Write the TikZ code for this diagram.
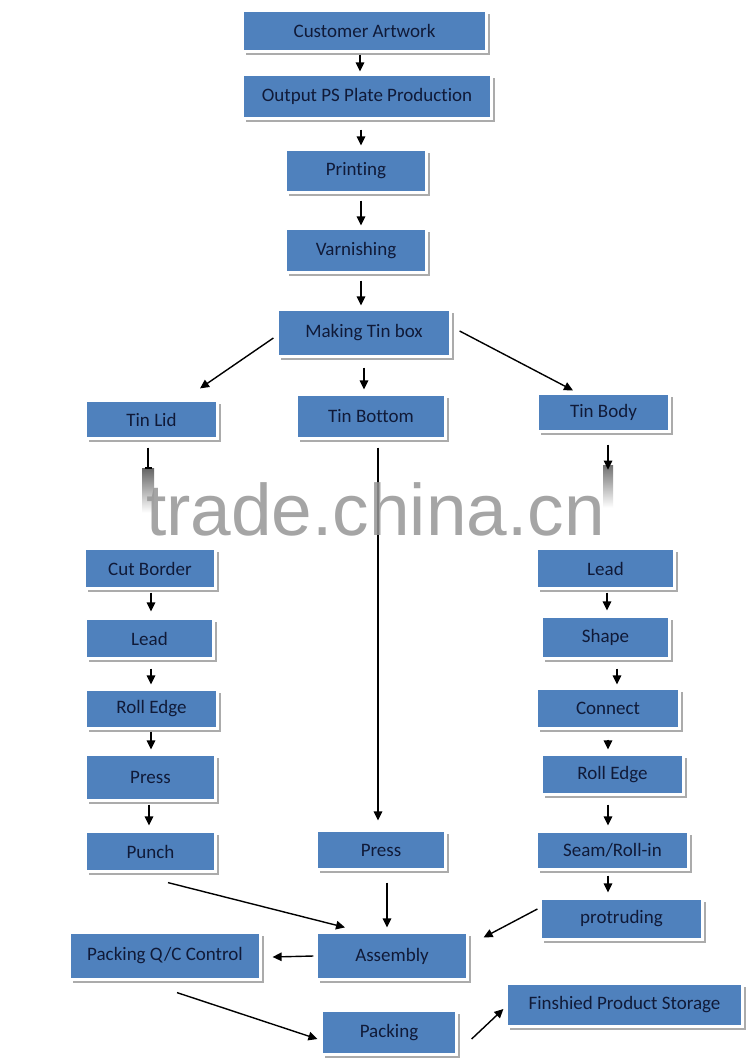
\documentclass[tikz,border=0pt]{standalone}
\usepackage{fontspec}
\setmainfont{Carlito}[Ligatures=NoCommon]
\newfontfamily\wmfont{Liberation Sans}
\usetikzlibrary{shadows,arrows.meta,calc}
\definecolor{boxblue}{RGB}{79,129,189}
\definecolor{boxtext}{RGB}{16,26,56}
\definecolor{wmgray}{RGB}{150,150,150}
\begin{document}
\begin{tikzpicture}[x=1pt,y=-1pt,
  stepbox/.style={fill=boxblue, draw=white, line width=2.6pt, text=boxtext,
    font=\fontsize{19}{22}\selectfont, inner sep=0pt,
    drop shadow={shadow xshift=3.6pt, shadow yshift=-3.6pt, fill=black!33, opacity=1}},
  sz/.style 2 args={minimum width=#1pt+2.6pt, minimum height=#2pt+2.6pt},
  arr/.style={line width=1.4pt, -{Triangle[length=9pt,width=8.5pt]}},
  plain/.style={line width=1.4pt}]
\useasboundingbox (0,0) rectangle (750,1062);
\fill[white] (0,0) rectangle (750,1062);

% boxes
\node[stepbox, sz={241}{38}] (ca) at (364.5,31) {Customer Artwork};
\node[stepbox, sz={246}{41}] (ops) at (367,96.5) {Output PS Plate Production};
\node[stepbox, sz={138}{40}] (prt) at (356,171) {Printing};
\node[stepbox, sz={138}{41}] (var) at (356,250.5) {Varnishing};
\node[stepbox, sz={170}{44}] (mtb) at (364,333) {Making Tin box};
\node[stepbox, sz={129}{35}] (lid) at (151.5,419.5) {Tin Lid};
\node[stepbox, sz={146}{41}] (bot) at (371,416.5) {Tin Bottom};
\node[stepbox, sz={129}{35}] (body) at (603.5,412.5) {Tin Body};

\node[stepbox, sz={128}{37}] (cut) at (150,568.5) {Cut Border};
\node[stepbox, sz={125}{37}] (leadL) at (149.5,638.5) {Lead};
\node[stepbox, sz={129}{36}] (rollL) at (151.5,709) {Roll Edge};
\node[stepbox, sz={127}{43}] (pressL) at (150.5,777.5) {Press};
\node[stepbox, sz={127}{37}] (punch) at (150.5,851.5) {Punch};

\node[stepbox, sz={126}{36}] (pressM) at (381,850) {Press};

\node[stepbox, sz={135}{37}] (leadR) at (605.5,568.5) {Lead};
\node[stepbox, sz={125}{39}] (shape) at (605.5,637.5) {Shape};
\node[stepbox, sz={140}{37}] (connect) at (608,708.5) {Connect};
\node[stepbox, sz={139}{37}] (rollR) at (612.5,774.5) {Roll Edge};
\node[stepbox, sz={149}{35}] (seam) at (612.5,850.5) {Seam/Roll-in};
\node[stepbox, sz={159}{38}] (prot) at (621.5,919) {protruding};

\node[stepbox, sz={148}{44}] (asm) at (392,956) {Assembly};
\node[stepbox, sz={188}{44}] (qc) at (165,956) {Packing Q/C Control};
\node[stepbox, sz={132}{41}] (pack) at (389,1032.5) {Packing};
\node[stepbox, sz={233}{40}] (store) at (624.5,1005) {Finshied Product Storage};

% top chain
\draw[arr] ($(ca.south)+(-4.5,2)$) -- ($(ops.north)+(-7,-2)$);
\draw[arr] ($(ops.south)+(-6,10)$) -- ($(prt.north)+(5,-3)$);
\draw[arr] ($(prt.south)+(5,7)$) -- ($(var.north)+(5,-2)$);
\draw[arr] ($(var.south)+(5,7)$) -- ($(mtb.north)+(-3,-3)$);
\draw[arr] ($(mtb.west)+(-3,5)$) -- ($(lid.north)+(48.5,-11)$);
\draw[arr] ($(mtb.south)+(0,10)$) -- ($(bot.north)+(-7,-4)$);
\draw[arr] ($(mtb.east)+(8,-2)$) -- ($(body.north)+(-30.5,-2)$);

% stubs into the watermark band
\coordinate (lidend) at ($(lid.south)+(-3.5,29)$);
\coordinate (bodyend) at ($(body.south)+(4.5,37)$);
\shade[top color=black!60, bottom color=white] ($(lidend)+(-6,0)$) rectangle ($(lidend)+(6,44)$);
\shade[top color=black!55, bottom color=white] ($(bodyend)+(-5,-4)$) rectangle ($(bodyend)+(5,38)$);
\draw[plain, -{Bar[width=7pt]}] ($(lid.south)+(-3.5,8)$) -- (lidend);
\draw[arr] ($(body.south)+(4.5,12)$) -- (bodyend);

% tin bottom to press
\draw[arr] ($(bot.south)+(7,8)$) -- ($(pressM.north)+(-3,-9)$);

% left chain
\draw[arr] ($(cut.south)+(1,3)$) -- ($(leadL.north)+(1.5,-6)$);
\draw[arr] ($(leadL.south)+(1.5,9)$) -- ($(rollL.north)+(-0.5,-4)$);
\draw[arr] ($(rollL.south)+(-0.5,2)$) -- ($(pressL.north)+(0.5,-4)$);
\draw[arr] ($(pressL.south)+(-1.5,3)$) -- ($(punch.north)+(-1.5,-5)$);

% right chain
\draw[arr] ($(leadR.south)+(1.5,3)$) -- ($(shape.north)+(1.5,-5)$);
\draw[arr] ($(shape.south)+(11.5,9)$) -- ($(connect.north)+(9,-3)$);
\draw[arr] ($(connect.south)+(0,10)$) -- ($(rollR.north)+(-4.5,-4)$);
\draw[arr] ($(rollR.south)+(-4.5,9)$) -- ($(seam.north)+(-4.5,-5)$);
\draw[arr] ($(seam.south)+(-4.5,5)$) -- ($(prot.north)+(-13.5,-5)$);

% bottom
\draw[arr] ($(punch.south)+(17.5,10)$) -- ($(asm.north)+(-47,-4)$);
\draw[arr] ($(pressM.south)+(6,12)$) -- ($(asm.north)+(-5,-4)$);
\draw[arr] ($(prot.west)+(-2,-10)$) -- ($(asm.north east)+(15,6)$);
\draw[arr] ($(asm.west)+(-2,0)$) -- ($(qc.east)+(11,1)$);
\draw[arr] ($(qc.south)+(12,12)$) -- ($(pack.west)+(-3,6.5)$);
\draw[arr] ($(pack.east)+(14,6.5)$) -- ($(store.west)+(-2,4)$);

% watermark
\node[anchor=base west, inner sep=0pt, text=wmgray, opacity=0.85,
  font=\wmfont\fontsize{73}{80}\selectfont] (wm) at (146,535) {trade.china.cn};
\end{tikzpicture}
\end{document}
